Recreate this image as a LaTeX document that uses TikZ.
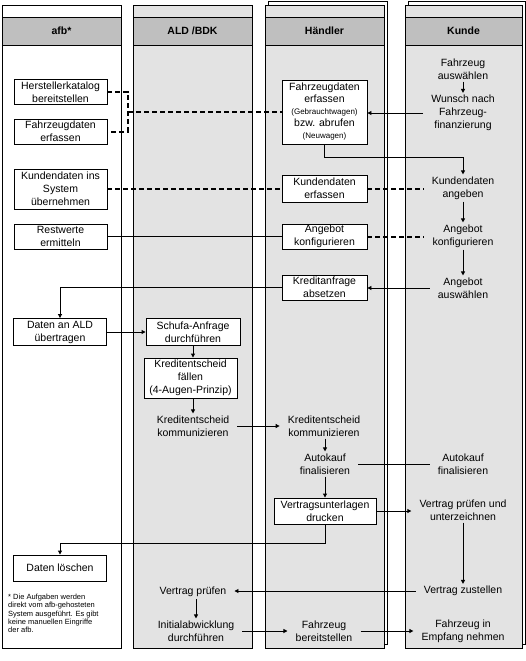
\documentclass[tikz,border=0pt]{standalone}
\usepackage{fontspec}
\setmainfont{Liberation Sans}
\usepackage{xcolor}
\usetikzlibrary{positioning,arrows.meta,calc}

\begin{document}
\begin{tikzpicture}[
  x=1pt, y=-1pt,
  font=\fontsize{10.5}{13}\selectfont,
  >={Triangle[length=4pt,width=4pt]},
  lane/.style={draw, line width=0.9pt, minimum width=119pt, minimum height=643pt, inner sep=0pt},
  back/.style={lane, fill=white},
  head/.style={draw, line width=0.9pt, fill=black!25, minimum width=119pt, minimum height=28pt, inner sep=0pt, font=\fontsize{10.5}{13}\selectfont\bfseries},
  box/.style={draw, fill=white, line width=0.9pt, align=center, inner sep=1pt, minimum height=25pt},
  txt/.style={align=center, inner xsep=8pt, inner ysep=2pt},
  ln/.style={line width=0.9pt},
  ar/.style={->, line width=0.9pt},
  dsh/.style={line width=2pt, dash pattern=on 5pt off 3pt},
  note/.style={align=left, font=\fontsize{7.5}{8.2}\selectfont, inner sep=0pt, anchor=north west}
]
\useasboundingbox (0,0) rectangle (526,661);
% Bahnen
\node[back] (haendlerB) at (328,322.5) {};
\node[lane, fill=black!11] (haendler) at (324.5,326.5) {};
\node[back, minimum width=117pt] (kundeB) at (467,322.5) {};
\node[lane, fill=black!11, minimum width=117pt] (kunde) at (463.5,326.5) {};
\node[lane, fill=white] (afb) at (61.5,326.5) {};
\node[lane, fill=black!11] (ald) at (192.5,326.5) {};
% Kopfzeilen
\node[head] (hAfb) at (61.5,31) {afb*};
\node[head] (hAld) at (192.5,31) {ALD /BDK};
\node[head] (hHaendler) at (324.5,31) {Händler};
\node[head, minimum width=117pt] (hKunde) at (463.5,31) {Kunde};
% afb
\node[box, minimum width=93pt] (herst) at (60.5,92) {Herstellerkatalog\\bereitstellen};
\node[box, minimum width=93pt] (fzgA) at (60.5,131.5) {Fahrzeugdaten\\erfassen};
\node[box, minimum width=93pt, minimum height=40pt] (kdA) at (60.5,189) {Kundendaten ins\\System\\übernehmen};
\node[box, minimum width=93pt] (restw) at (60.5,236.5) {Restwerte\\ermitteln};
\node[box, minimum width=93pt, minimum height=27pt] (datenA) at (60,332) {Daten an ALD\\übertragen};
\node[box, minimum width=93pt, minimum height=26pt] (loeschen) at (60,568) {Daten löschen};
\node[note] (fn) at (8,594) {* Die Aufgaben werden\\direkt vom afb-gehosteten\\System ausgeführt. Es gibt\\keine manuellen Eingriffe\\der afb.};
% ALD / BDK
\node[box, minimum width=94pt, minimum height=27pt] (schufa) at (193,332) {Schufa-Anfrage\\durchführen};
\node[box, minimum width=93pt, minimum height=40pt] (kredF) at (190.5,378) {Kreditentscheid\\fällen\\(4-Augen-Prinzip)};
\node[txt] (kredkA) at (193,426) {Kreditentscheid\\kommunizieren};
\node[txt] (vpruefA) at (193,592) {Vertrag prüfen};
\node[txt] (initA) at (196,631) {Initialabwicklung\\durchführen};
% Händler
\node[box, minimum width=85pt, minimum height=64pt] (fzgH) at (324.5,112) {Fahrzeugdaten\\[-1pt]erfassen\\[-1pt]{\fontsize{8}{9}\selectfont(Gebrauchtwagen)}\\[-1pt]bzw. abrufen\\[-1pt]{\fontsize{8}{9}\selectfont(Neuwagen)}};
\node[box, minimum width=85pt, minimum height=27pt] (kdH) at (324.5,188.5) {Kundendaten\\erfassen};
\node[box, minimum width=85pt] (angH) at (324.5,236.5) {Angebot\\konfigurieren};
\node[box, minimum width=85pt] (kreditH) at (324.5,287.5) {Kreditanfrage\\absetzen};
\node[txt] (kredkH) at (324,426) {Kreditentscheid\\kommunizieren};
\node[txt] (autoH) at (325,464) {Autokauf\\finalisieren};
\node[box, minimum width=102pt, minimum height=26pt] (vdruck) at (325,511) {Vertragsunterlagen\\drucken};
\node[txt] (bereitH) at (324,631) {Fahrzeug\\bereitstellen};
% Kunde
\node[txt] (fzgK) at (463,69) {Fahrzeug\\auswählen};
\node[txt] (wunschK) at (463,113) {Wunsch nach\\Fahrzeug-\\finanzierung};
\node[txt] (kdK) at (463,188) {Kundendaten\\angeben};
\node[txt] (angK) at (463,236) {Angebot\\konfigurieren};
\node[txt] (auswK) at (463,288) {Angebot\\auswählen};
\node[txt] (autoK) at (463,464) {Autokauf\\finalisieren};
\node[txt] (vpruefK) at (463,510) {Vertrag prüfen und\\unterzeichnen};
\node[txt] (zustK) at (463,591) {Vertrag zustellen};
\node[txt] (empfK) at (463,631) {Fahrzeug in\\Empfang nehmen};
% gestrichelte Verbindungen
\coordinate (brk) at (128,112);
\draw[dsh] (herst.east) -| (brk) |- (fzgA.east);
\draw[dsh] (brk) -- (brk -| fzgH.west);
\draw[dsh] (kdA.east) -- (kdA.east -| kdH.west);
\draw[dsh] (kdH.east) -- (kdH.east -| kdK.west);
\draw[dsh] (angH.east) -- (angH.east -| angK.west);
% Linien
\draw[ln] (restw.east) -- (restw.east -| angH.west);
\draw[ln] (autoH.east) -- (autoH.east -| autoK.west);
% Pfeile
\draw[ar] (fzgK) -- (wunschK);
\draw[ar] (wunschK.west) -- (wunschK.west -| fzgH.east);
\draw[ar] (fzgH.south) -- ++(0,13) -| (kdK.north);
\draw[ar] (kdK) -- (angK);
\draw[ar] (angK) -- (auswK);
\draw[ar] (auswK.west) -- (auswK.west -| kreditH.east);
\draw[ar] (kreditH.west) -| (datenA.north);
\draw[ar] (datenA.east) -- (datenA.east -| schufa.west);
\draw[ar] (schufa.south) -- (schufa.south |- kredF.north);
\draw[ar] (kredkA.north |- kredF.south) -- (kredkA.north);
\draw[ar] (kredkA.east) -- (kredkA.east -| kredkH.west);
\draw[ar] (autoH.north |- kredkH.south) -- (autoH.north);
\draw[ar] (autoH) -- (vdruck);
\draw[ar] (vdruck.east) -- (vdruck.east -| vpruefK.west);
\draw[ar] (vdruck.south) -- ++(0,19) -| (loeschen.north);
\draw[ar] (vpruefK) -- (zustK);
\draw[ar] (zustK.west) -- (zustK.west -| vpruefA.east);
\draw[ar] (initA.north |- vpruefA.south) -- (initA.north);
\draw[ar] (initA.east) -- (initA.east -| bereitH.west);
\draw[ar] (bereitH.east) -- (bereitH.east -| empfK.west);
\end{tikzpicture}
\end{document}
